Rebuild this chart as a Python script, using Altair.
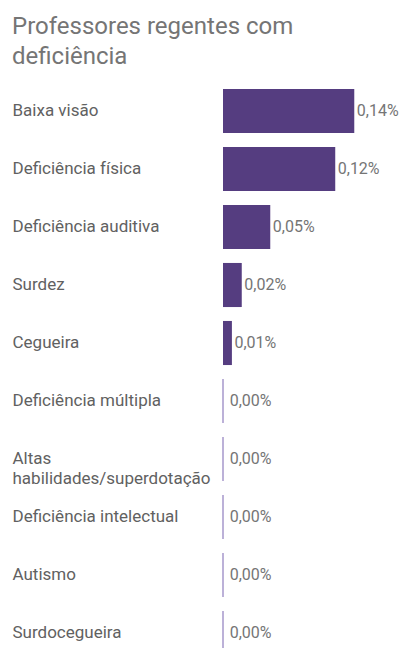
import altair as alt
import pandas as pd

categories = ["Baixa visão", "Deficiência física", "Deficiência auditiva", "Surdez",
              "Cegueira", "Deficiência múltipla", "Altas|habilidades/superdotação",
              "Deficiência intelectual", "Autismo", "Surdocegueira"]
values = [0.140, 0.1197, 0.0504, 0.020, 0.0095, 0.0, 0.0, 0.0, 0.0, 0.0]
labels = ["0,14%", "0,12%", "0,05%", "0,02%", "0,01%", "0,00%", "0,00%", "0,00%", "0,00%", "0,00%"]

df = pd.DataFrame({"cat": categories, "v": values, "lab": labels})

FONT = "Roboto"
XDOM = [0, 0.1877]
y = alt.Y("cat:N", sort=categories, title=None,
          scale=alt.Scale(paddingInner=0.24, paddingOuter=0.12, range=[0, 580]),
          axis=alt.Axis(labelAlign="left", labelPadding=211, tickSize=0, domain=False,
                        labelFontSize=17, labelColor="#616161", labelFont=FONT,
                        labelLimit=260, labelLineHeight=20,
                        labelExpr="split(datum.value, '|')"))
x = alt.X("v:Q", title=None, scale=alt.Scale(domain=XDOM), axis=None)

base = alt.Chart(df)
bars = base.mark_bar(color="#553d80").encode(x=x, y=y)
zero = base.transform_filter("datum.v == 0").mark_tick(
    color="#9f90c8", thickness=2, bandSize=44, orient="vertical").encode(x=x, y=y)
text = base.transform_calculate(lx="max(datum.v, 0.0045)").mark_text(
    align="left", baseline="middle", dx=2.5, fontSize=16, font=FONT, color="#757575"
).encode(x=alt.X("lx:Q", scale=alt.Scale(domain=XDOM), axis=None), y=y, text="lab:N")

chart = alt.layer(bars, zero, text).properties(
    width=176, height=566,
    autosize=alt.AutoSizeParams(type="none"),
    padding={"left": 215, "top": 74, "right": 0, "bottom": 0},
    title=alt.TitleParams(["Professores regentes com", "deficiência"], anchor="start",
                          frame="bounds", fontSize=24, font=FONT, fontWeight="normal",
                          color="#757575", lineHeight=30, offset=13),
).configure_view(stroke=None)

chart.save("out.html", embed_options={"renderer": "svg", "actions": False})
